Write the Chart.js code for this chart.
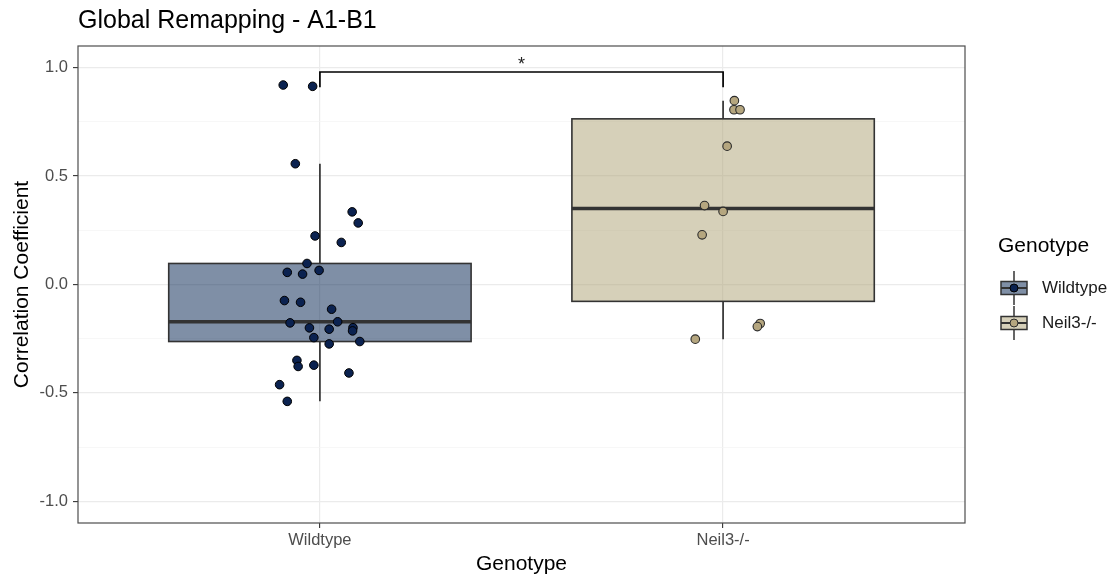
<!DOCTYPE html>
<html>
<head>
<meta charset="utf-8">
<title>Global Remapping - A1-B1</title>
<script src="https://cdn.jsdelivr.net/npm/chart.js@4.4.1/dist/chart.umd.min.js"></script>
<style>
  html, body { margin: 0; padding: 0; background: #ffffff; }
  #wrap { width: 1114px; height: 582px; }
</style>
</head>
<body>
<div id="wrap"><canvas id="chart" width="1114" height="582"></canvas></div>
<script>
// ---- data ----
const categories = ['Wildtype', 'Neil3-/-'];

// correlation coefficient per animal, Wildtype group
const wildtypeValues = [
  0.920, 0.914, 0.557, 0.335, 0.284, 0.224, 0.194, 0.097, 0.056, 0.048,
  0.065, -0.074, -0.082, -0.114, -0.177, -0.172, -0.200, -0.206, -0.199, -0.214,
  -0.245, -0.274, -0.263, -0.350, -0.378, -0.372, -0.408, -0.462, -0.539
];
// horizontal jitter of each Wildtype point (category units)
const wildtypeJitter = [
  -0.091, -0.018, -0.061, 0.080, 0.095, -0.012, 0.053, -0.032, -0.081, -0.043,
  -0.002, -0.088, -0.048, 0.029, -0.074, 0.044, -0.026, 0.023, 0.082, 0.081,
  -0.015, 0.023, 0.099, -0.057, -0.054, -0.015, 0.072, -0.100, -0.081
];

// correlation coefficient per animal, Neil3-/- group
const neilValues = [0.848, 0.806, 0.806, 0.638, 0.364, 0.337, 0.229, -0.180, -0.194, -0.252];
const neilJitter = [0.028, 0.027, 0.042, 0.010, -0.046, 0.000, -0.052, 0.092, 0.085, -0.069];

const yMajorTicks = [-1.0, -0.5, 0.0, 0.5, 1.0];

// significance bracket between the two groups
const bracketLabel = '*';
const bracketTop = 0.98;
const bracketFoot = 0.91;

// ---- styling ----
const FONT = '"Liberation Sans", Arial, Helvetica, sans-serif';
const groupStyles = [
  { box: 'rgba(0, 32, 77, 0.5)',     point: '#0B2250', pointBorder: '#000000' },
  { box: 'rgba(173, 161, 115, 0.5)', point: '#B5A67F', pointBorder: '#2b2b2b' }
];
const INK = '#333333';

// ---- box statistics (quantile type 7, 1.5 IQR whiskers) ----
function quantile(sorted, p) {
  const h = (sorted.length - 1) * p;
  const lo = Math.floor(h), hi = Math.ceil(h);
  return sorted[lo] + (h - lo) * (sorted[hi] - sorted[lo]);
}
function boxStats(values) {
  const s = values.slice().sort((a, b) => a - b);
  const q1 = quantile(s, 0.25), med = quantile(s, 0.5), q3 = quantile(s, 0.75);
  const iqr = q3 - q1;
  const inside = s.filter(v => v >= q1 - 1.5 * iqr && v <= q3 + 1.5 * iqr);
  return { q1, med, q3, lo: inside[0], hi: inside[inside.length - 1] };
}
const groups = [wildtypeValues, neilValues];
const stats = groups.map(boxStats);

// minor ticks sit halfway between majors
const yAllTicks = [];
yMajorTicks.forEach((v, i) => {
  yAllTicks.push(v);
  if (i < yMajorTicks.length - 1) yAllTicks.push((v + yMajorTicks[i + 1]) / 2);
});
const isMajor = v => yMajorTicks.some(m => Math.abs(m - v) < 1e-9);

// ---- plugins ----
const boxPlugin = {
  id: 'boxes',
  beforeDatasetsDraw(chart) {
    const { ctx, scales: { x, y } } = chart;
    ctx.save();
    stats.forEach((st, i) => {
      const cx = x.getPixelForValue(i + 1);
      const left = x.getPixelForValue(i + 1 - 0.375);
      const right = x.getPixelForValue(i + 1 + 0.375);
      // whiskers
      ctx.strokeStyle = INK;
      ctx.lineWidth = 1.7;
      ctx.beginPath();
      ctx.moveTo(cx, y.getPixelForValue(st.q3));
      ctx.lineTo(cx, y.getPixelForValue(st.hi));
      ctx.moveTo(cx, y.getPixelForValue(st.q1));
      ctx.lineTo(cx, y.getPixelForValue(st.lo));
      ctx.stroke();
      // box
      const top = y.getPixelForValue(st.q3);
      const bot = y.getPixelForValue(st.q1);
      ctx.fillStyle = groupStyles[i].box;
      ctx.fillRect(left, top, right - left, bot - top);
      ctx.lineWidth = 1.6;
      ctx.strokeRect(left, top, right - left, bot - top);
      // median
      ctx.lineWidth = 3.4;
      ctx.beginPath();
      ctx.moveTo(left, y.getPixelForValue(st.med));
      ctx.lineTo(right, y.getPixelForValue(st.med));
      ctx.stroke();
    });
    ctx.restore();
  }
};

const overlayPlugin = {
  id: 'overlay',
  afterDatasetsDraw(chart) {
    const { ctx, chartArea: a, scales: { x, y } } = chart;
    ctx.save();
    // significance bracket
    const x1 = x.getPixelForValue(1), x2 = x.getPixelForValue(2);
    const yt = y.getPixelForValue(bracketTop), yf = y.getPixelForValue(bracketFoot);
    ctx.strokeStyle = '#000000';
    ctx.lineWidth = 1.7;
    ctx.beginPath();
    ctx.moveTo(x1, yf); ctx.lineTo(x1, yt); ctx.lineTo(x2, yt); ctx.lineTo(x2, yf);
    ctx.stroke();
    ctx.fillStyle = '#222222';
    ctx.font = '18px ' + FONT;
    ctx.textAlign = 'center';
    ctx.textBaseline = 'alphabetic';
    ctx.fillText(bracketLabel, (x1 + x2) / 2, yt - 2);
    // panel border
    ctx.strokeStyle = '#4d4d4d';
    ctx.lineWidth = 1.2;
    ctx.strokeRect(a.left, a.top, a.right - a.left, a.bottom - a.top);
    ctx.restore();
  },
  afterDraw(chart) {
    const { ctx, chartArea: a } = chart;
    ctx.save();
    // plot title
    ctx.fillStyle = '#000000';
    ctx.font = '25px ' + FONT;
    ctx.textAlign = 'left';
    ctx.textBaseline = 'alphabetic';
    ctx.fillText('Global Remapping - A1-B1', a.left, 28);
    // legend
    ctx.font = '21px ' + FONT;
    ctx.textBaseline = 'middle';
    ctx.fillText('Genotype', 998, 246);
    categories.forEach((name, i) => {
      const cy = 288 + i * 35;
      const kx = 1001, kw = 26, cx = kx + kw / 2;
      ctx.strokeStyle = INK;
      ctx.lineWidth = 1.5;
      ctx.beginPath();
      ctx.moveTo(cx, cy - 17); ctx.lineTo(cx, cy + 17);
      ctx.stroke();
      ctx.fillStyle = '#ffffff';
      ctx.fillRect(kx, cy - 6.5, kw, 13);
      ctx.fillStyle = groupStyles[i].box;
      ctx.fillRect(kx, cy - 6.5, kw, 13);
      ctx.strokeRect(kx, cy - 6.5, kw, 13);
      ctx.lineWidth = 2;
      ctx.beginPath();
      ctx.moveTo(kx, cy); ctx.lineTo(kx + kw, cy);
      ctx.stroke();
      ctx.beginPath();
      ctx.arc(cx, cy, 4, 0, Math.PI * 2);
      ctx.fillStyle = groupStyles[i].point;
      ctx.fill();
      ctx.lineWidth = 1;
      ctx.strokeStyle = groupStyles[i].pointBorder;
      ctx.stroke();
      ctx.fillStyle = '#1a1a1a';
      ctx.font = '17px ' + FONT;
      ctx.fillText(name, 1042, cy);
    });
    ctx.restore();
  }
};

// ---- chart ----
const toPoints = (vals, jit, g) => vals.map((v, i) => ({ x: g + jit[i], y: v }));

new Chart(document.getElementById('chart'), {
  type: 'scatter',
  data: {
    datasets: [
      {
        label: categories[0],
        data: toPoints(wildtypeValues, wildtypeJitter, 1),
        backgroundColor: groupStyles[0].point,
        borderColor: groupStyles[0].pointBorder,
        borderWidth: 1,
        pointRadius: 4.3,
        pointHoverRadius: 4.3
      },
      {
        label: categories[1],
        data: toPoints(neilValues, neilJitter, 2),
        backgroundColor: groupStyles[1].point,
        borderColor: groupStyles[1].pointBorder,
        borderWidth: 1.1,
        pointRadius: 4.3,
        pointHoverRadius: 4.3
      }
    ]
  },
  options: {
    responsive: false,
    animation: false,
    devicePixelRatio: 1,
    layout: { padding: { top: 46, right: 149, bottom: 0, left: 0 } },
    plugins: {
      legend: { display: false },
      tooltip: { enabled: false },
      title: { display: false }
    },
    scales: {
      x: {
        type: 'linear',
        min: 0.4,
        max: 2.6,
        afterBuildTicks: s => { s.ticks = [1, 2].map(v => ({ value: v })); },
        afterFit: s => { s.height = 582 - 523; },
        border: { display: false },
        grid: {
          color: '#EBEBEB',
          lineWidth: 1.2,
          tickColor: INK,
          tickLength: 5,
          tickWidth: 1.1
        },
        ticks: {
          autoSkip: false,
          maxRotation: 0,
          padding: 3,
          color: '#4D4D4D',
          font: { family: FONT, size: 16.5 },
          callback: v => categories[Math.round(v) - 1]
        },
        title: {
          display: true,
          text: 'Genotype',
          color: '#000000',
          font: { family: FONT, size: 21 },
          padding: { top: 0, bottom: 5 }
        }
      },
      y: {
        type: 'linear',
        min: -1.1,
        max: 1.1,
        afterBuildTicks: s => { s.ticks = yAllTicks.map(v => ({ value: v })); },
        afterFit: s => { s.width = 78; },
        border: { display: false },
        grid: {
          color: c => isMajor(c.tick.value) ? '#EBEBEB' : '#F3F3F3',
          lineWidth: c => isMajor(c.tick.value) ? 1.2 : 0.7,
          tickColor: c => isMajor(c.tick.value) ? INK : 'rgba(0,0,0,0)',
          tickLength: 5,
          tickWidth: 1.1
        },
        ticks: {
          autoSkip: false,
          padding: 5,
          color: '#4D4D4D',
          font: { family: FONT, size: 16.5 },
          callback: v => isMajor(v) ? v.toFixed(1) : ''
        },
        title: {
          display: true,
          text: 'Correlation Coefficient',
          color: '#000000',
          font: { family: FONT, size: 21 },
          padding: { top: 10, bottom: 0 }
        }
      }
    }
  },
  plugins: [boxPlugin, overlayPlugin]
});
</script>
</body>
</html>
